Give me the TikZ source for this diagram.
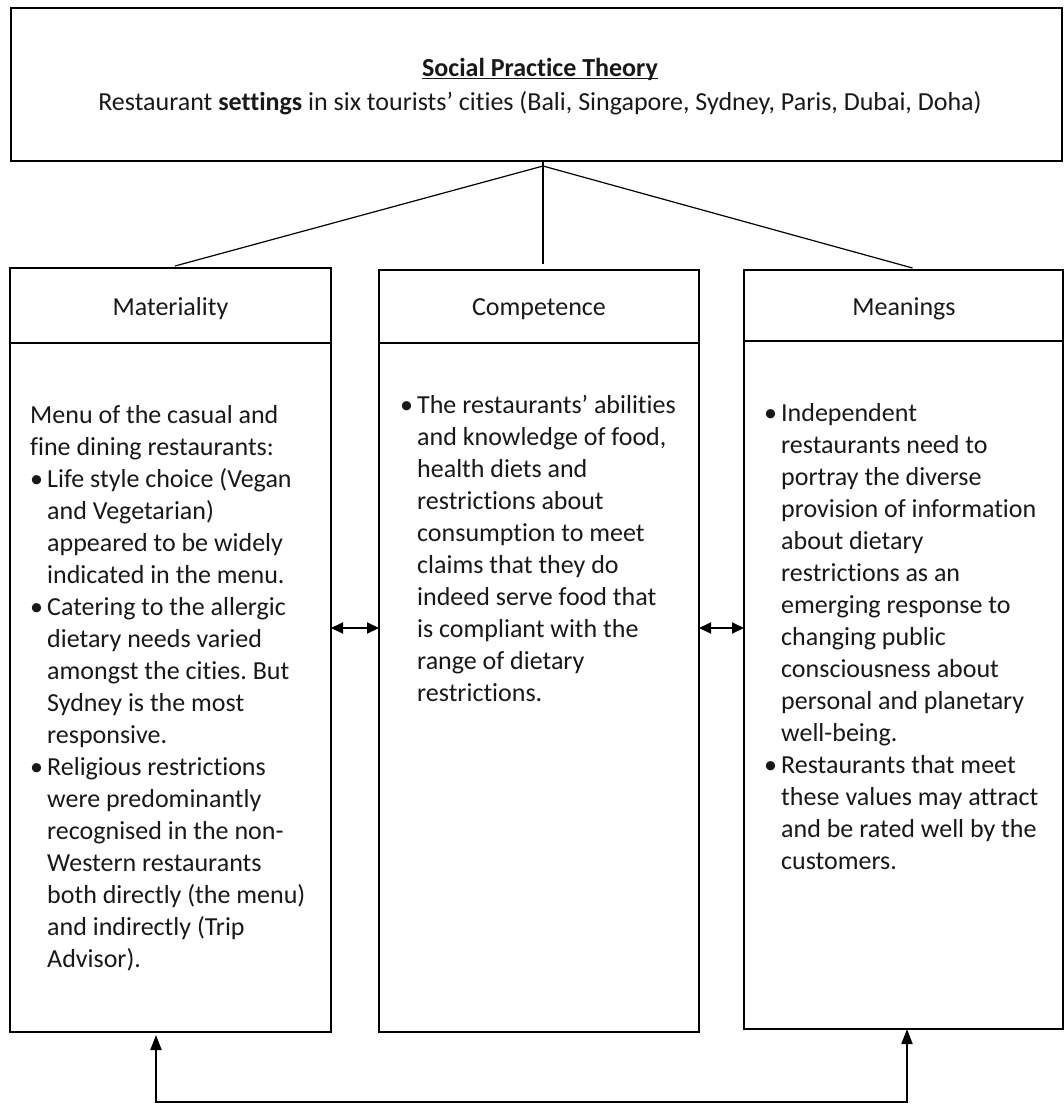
\documentclass[tikz,border=0pt]{standalone}
\usepackage{fontspec}
\setmainfont{Carlito}[Ligatures=NoCommon]
\usetikzlibrary{arrows.meta,calc}
\frenchspacing
\newcommand\bulx{\makebox[17pt][l]{•}}
\newcommand\indx{\hspace*{17pt}}
\newcommand\ulx[1]{\setbox0\hbox{#1}\rlap{\rule[-3pt]{\wd0}{1.4pt}}\box0}
\begin{document}
\begin{tikzpicture}[x=1pt,y=-1pt,
  boxx/.style={draw, line width=2pt, inner sep=0pt, outer sep=0pt, anchor=north west},
  sepline/.style={line width=2.6pt},
  body/.style={font=\fontsize{26pt}{32pt}\selectfont\frenchspacing, align=left, inner sep=0pt, anchor=north west, text=black!90},
  head/.style={font=\fontsize{26pt}{32pt}\selectfont\frenchspacing, inner sep=0pt, anchor=base, text=black!90},
  thin/.style={line width=1.2pt},
  dbl/.style={line width=2pt, {Triangle[length=12pt,width=11pt]}-{Triangle[length=12pt,width=11pt]}},
  loop/.style={line width=2pt, {Triangle[length=15pt,width=11pt]}-{Triangle[length=15pt,width=11pt]}}]
\useasboundingbox (0,0) rectangle (1064,1104);
\fill[white] (0,0) rectangle (1064,1104);

% top box
\node[boxx, minimum width=1051pt, minimum height=153pt] (top) at (11,8) {};
\node[head, font=\fontsize{26pt}{32pt}\selectfont\bfseries] (title) at (540,76) {\ulx{Social Practice Theory}};
\node[head] (sub) at (540,110) {Restaurant \textbf{settings} in six tourists’ cities (Bali, Singapore, Sydney, Paris, Dubai, Doha)};

% three boxes
\node[boxx, minimum width=321pt, minimum height=764pt] (mat) at (10,268) {};
\node[boxx, minimum width=320pt, minimum height=762pt] (comp) at (379,270) {};
\node[boxx, minimum width=319pt, minimum height=759pt] (mean) at (744,270) {};

\coordinate (s1) at (0,343);
\coordinate (s2) at (0,341);
\draw[sepline] (mat.west |- s1) -- (mat.east |- s1);
\draw[sepline] (comp.west |- s1) -- (comp.east |- s1);
\draw[sepline] (mean.west |- s2) -- (mean.east |- s2);

\node[head] (hmat) at (170.5,315) {Materiality};
\node[head] (hcomp) at (539,315) {Competence};
\node[head] (hmean) at (904,315) {Meanings};

% connectors from the top box
\coordinate (hub) at (543,166);
\draw[thin] (top.south -| hub) -- (hub);
\draw[thin] (hub) -- ($(mat.north)+(4.5,-2)$);
\draw[thin] (hub) -- ($(comp.north)+(4,-6)$);
\draw[thin] (hub) -- ($(mean.north)+(9,-2)$);

% body texts
\node[body] (tmat) at (30,400.6) {\strut Menu of the casual and\\
fine dining restaurants:\\
\bulx Life style choice (Vegan\\
\indx and Vegetarian)\\
\indx appeared to be widely\\
\indx indicated in the menu.\\
\bulx Catering to the allergic\\
\indx dietary needs varied\\
\indx amongst the cities. But\\
\indx Sydney is the most\\
\indx responsive.\\
\bulx Religious restrictions\\
\indx were predominantly\\
\indx recognised in the non-\\
\indx Western restaurants\\
\indx both directly (the menu)\\
\indx and indirectly (Trip\\
\indx Advisor).};

\node[body] (tcomp) at (400,390.6) {\strut\bulx The restaurants’ abilities\\
\indx and knowledge of food,\\
\indx health diets and\\
\indx restrictions about\\
\indx consumption to meet\\
\indx claims that they do\\
\indx indeed serve food that\\
\indx is compliant with the\\
\indx range of dietary\\
\indx restrictions.};

\node[body] (tmean) at (764,398.6) {\strut\bulx Independent\\
\indx restaurants need to\\
\indx portray the diverse\\
\indx provision of information\\
\indx about dietary\\
\indx restrictions as an\\
\indx emerging response to\\
\indx changing public\\
\indx consciousness about\\
\indx personal and planetary\\
\indx well-being.\\
\bulx Restaurants that meet\\
\indx these values may attract\\
\indx and be rated well by the\\
\indx customers.};

% double arrows
\coordinate (ya) at (0,628);
\draw[dbl] (mat.east |- ya) -- (comp.west |- ya);
\draw[dbl] (comp.east |- ya) -- (mean.west |- ya);

% bottom feedback arrow
\coordinate (yb) at (0,1102);
\coordinate (mb) at ($(mat.south)+(-14.5,3)$);
\coordinate (nb) at ($(mean.south)+(3.5,0)$);
\draw[loop] (mb) -- (mb |- yb) -- (nb |- yb) -- (nb);
\end{tikzpicture}
\end{document}
